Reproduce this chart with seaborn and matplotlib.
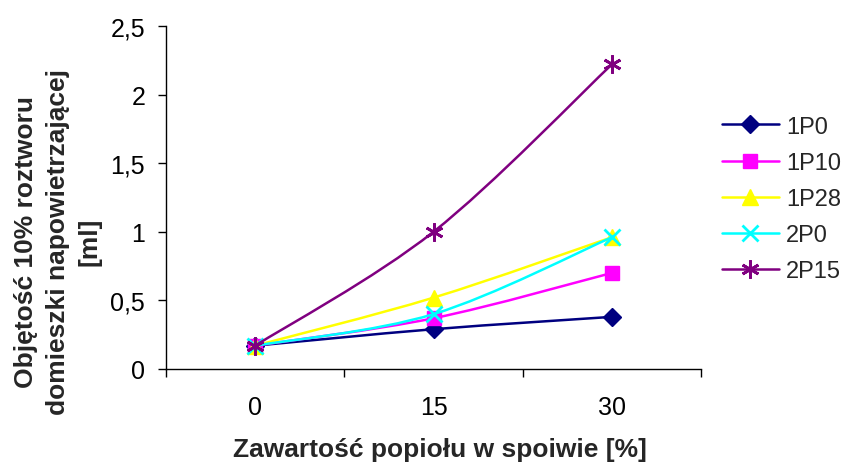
import numpy as np
import pandas as pd
import matplotlib
matplotlib.use("Agg")
import matplotlib.pyplot as plt
from matplotlib.path import Path
from matplotlib.patches import PathPatch
from matplotlib.lines import Line2D
from matplotlib.ticker import FixedLocator, FuncFormatter
import seaborn as sns

# Data
categories = ["0", "15", "30"]
s_1P0 = [0.17, 0.29, 0.38]
s_1P10 = [0.17, 0.37, 0.70]
s_1P28 = [0.17, 0.52, 0.96]
s_2P0 = [0.17, 0.40, 0.96]
s_2P15 = [0.17, 1.00, 2.22]

series_names = ["1P0", "1P10", "1P28", "2P0", "2P15"]
series_values = [s_1P0, s_1P10, s_1P28, s_2P0, s_2P15]
colors = ["#000080", "#FF00FF", "#FFFF00", "#00FFFF", "#800080"]
markers = ["D", "s", "^", "x", (6, 2, 0)]
msizes = [9, 10, 11, 11, 13]

TICK_FS = 18
LABEL_FS = 19
LEGEND_FS = 17

sns.set_theme(style="white")
plt.rcParams["font.family"] = ["Liberation Sans", "DejaVu Sans"]

rows = []
for name, vals in zip(series_names, series_values):
    for i, (c, v) in enumerate(zip(categories, vals)):
        rows.append({"series": name, "pos": i, "cat": c, "value": v})
df = pd.DataFrame(rows)

fig = plt.figure(figsize=(8.42, 4.64), dpi=100)
ax = fig.add_axes([166 / 842, 1 - 370 / 464, (701 - 166) / 842, (370 - 27) / 464])


def smooth_path(xs, ys):
    """Bezier path through the points, Catmull-Rom style smoothing."""
    pts = np.column_stack([xs, ys]).astype(float)
    n = len(pts)
    verts = [pts[0]]
    codes = [Path.MOVETO]
    for i in range(n - 1):
        p0 = pts[i - 1] if i > 0 else pts[i]
        p1 = pts[i]
        p2 = pts[i + 1]
        p3 = pts[i + 2] if i + 2 < n else pts[i + 1]
        c1 = p1 + (p2 - p0) / 6.0
        c2 = p2 - (p3 - p1) / 6.0
        verts += [c1, c2, p2]
        codes += [Path.CURVE4] * 3
    return Path(verts, codes)


handles = []
for k, (name, col, mk, ms) in enumerate(zip(series_names, colors, markers, msizes)):
    sub = df[df["series"] == name]
    patch = PathPatch(smooth_path(sub["pos"].values, sub["value"].values),
                      facecolor="none", edgecolor=col, lw=1.8, zorder=2 + 2 * k)
    ax.add_patch(patch)
    filled = mk not in ("x",) and not isinstance(mk, tuple)
    sns.lineplot(data=sub, x="pos", y="value", ax=ax, color=col, linestyle="",
                 marker=mk, markersize=ms, markeredgewidth=(1.0 if filled else 2.0),
                 markeredgecolor=col, markerfacecolor=col, zorder=3 + 2 * k,
                 legend=False, errorbar=None)
    handles.append(Line2D([0], [0], color=col, lw=1.8, marker=mk, markersize=ms,
                          markeredgewidth=(1.0 if filled else 2.0),
                          markerfacecolor=col, markeredgecolor=col))

ax.set_xlim(-0.5, 2.5)
ax.set_ylim(0, 2.5)

for side in ["top", "right"]:
    ax.spines[side].set_visible(False)
for side in ["left", "bottom"]:
    ax.spines[side].set_color("black")
    ax.spines[side].set_linewidth(1.0)

ax.xaxis.set_major_locator(FixedLocator([-0.5, 0.5, 1.5, 2.5]))
ax.xaxis.set_minor_locator(FixedLocator([0, 1, 2]))
ax.set_xticklabels([])
ax.set_xticklabels(categories, minor=True)
ax.tick_params(axis="x", which="major", direction="out", length=6, width=1, color="black", bottom=True)
ax.tick_params(axis="x", which="minor", length=0, pad=19, labelsize=TICK_FS, labelcolor="black")

ax.set_yticks([0, 0.5, 1.0, 1.5, 2.0, 2.5])
ax.yaxis.set_major_formatter(FuncFormatter(lambda v, p: f"{v:g}".replace(".", ",")))
ax.tick_params(axis="y", direction="out", length=6, width=1, color="black", left=True,
               labelsize=TICK_FS, labelcolor="black", pad=9)
ax.grid(False)

ax.set_xlabel("Zawartość popiołu w spoiwie [%]", fontsize=LABEL_FS, fontweight="bold",
              va="center")
ax.xaxis.set_label_coords((440 - 166) / 535, (370 - 450) / 343)
ax.set_ylabel("Objętość 10% roztworu\ndomieszki napowietrzającej\n[ml]", fontsize=LABEL_FS,
              fontweight="bold", linespacing=1.4, va="center")
ax.yaxis.set_label_coords((58 - 166) / 535, (370 - 242) / 343)

fig.legend(handles=handles, labels=series_names, loc="center left",
           bbox_to_anchor=(722 / 842, 1 - 200 / 464), frameon=False, fontsize=LEGEND_FS,
           handlelength=2.4, handletextpad=0.3, labelspacing=0.6, borderpad=0,
           borderaxespad=0)

fig.savefig("out.png", dpi=100)
